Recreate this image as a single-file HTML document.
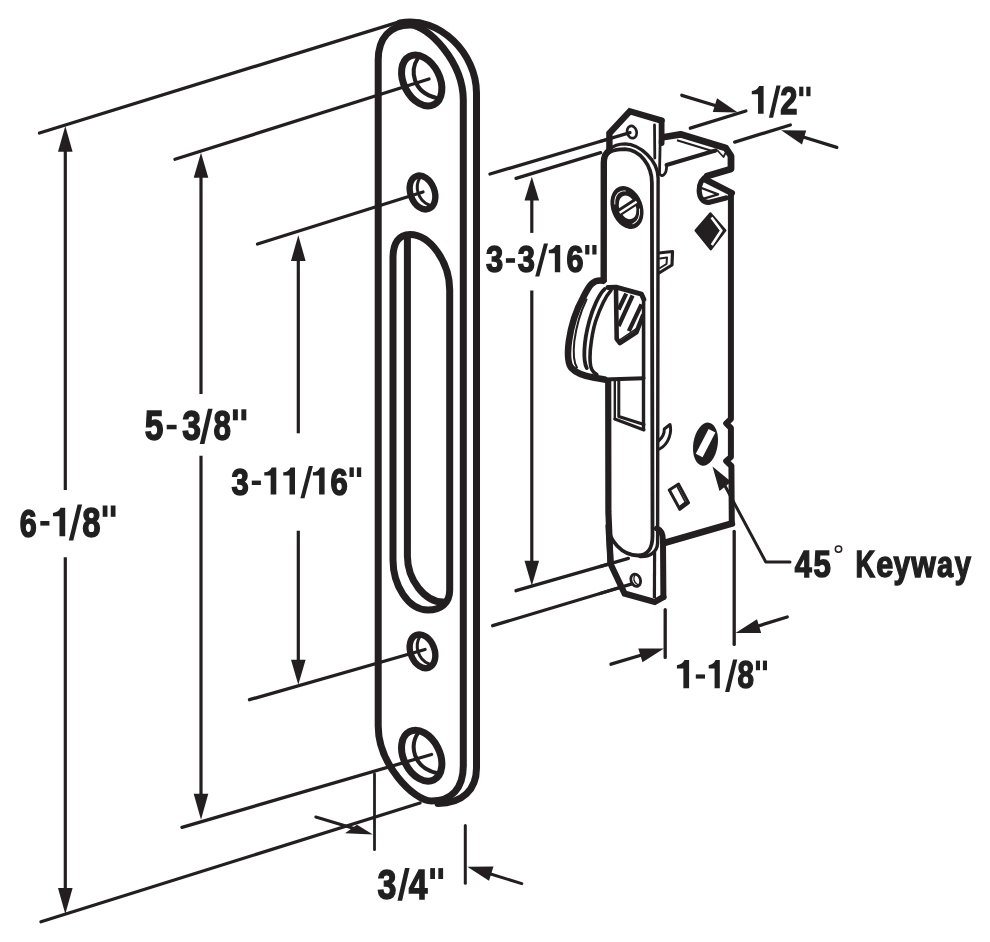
<!DOCTYPE html>
<html><head><meta charset="utf-8">
<style>
html,body{margin:0;padding:0;background:#fff;}
body{width:990px;height:942px;overflow:hidden;}
svg{display:block;}
text{font-family:"Liberation Sans",sans-serif;font-weight:bold;fill:#231f20;stroke:#231f20;stroke-linejoin:miter;}
</style></head><body>
<svg width="990" height="942" viewBox="0 0 990 942" fill="none" stroke="#231f20" stroke-linecap="round" stroke-linejoin="round">
<rect x="0" y="0" width="990" height="942" fill="#fff" stroke="none"/>

<!-- ===== extension lines (strike plate) ===== -->

<!-- ===== dimension lines (strike plate) ===== -->
<g id="dims" stroke-width="3.2" stroke-linecap="butt">
<line x1="65.3" y1="148" x2="65.3" y2="490"/>
<line x1="65.3" y1="557.3" x2="65.3" y2="892"/>
<line x1="201" y1="174" x2="201" y2="394"/>
<line x1="201" y1="455.7" x2="201" y2="797"/>
<line x1="298.3" y1="258" x2="298.3" y2="433.3"/>
<line x1="298.3" y1="530.7" x2="298.3" y2="663"/>
</g>
<g id="heads" fill="#231f20" stroke="none">
<polygon points="65.3,126 58,151.7 72.6,151.7"/>
<polygon points="65.3,914 58,888 72.6,888"/>
<polygon points="201,152.7 193.7,177.7 208.3,177.7"/>
<polygon points="201,819.7 193.7,793.7 208.3,793.7"/>
<polygon points="298.3,235.3 291,261 305.6,261"/>
<polygon points="298.3,684.7 291,659.7 305.6,659.7"/>
</g>

<!-- ===== strike plate ===== -->
<g id="plate" stroke-width="7">
<!-- back edge -->
<path d="M400,23 C440,15.5 476.5,54 476.5,93 L476.5,768 C476.5,790 462,803.5 438,803.5"/>
<!-- front face -->
<path d="M378.2,60 C378.2,38 390,25 410,25 C428,25 463.3,62 463.3,100 L463.3,766 C463.3,788 451.6,801 431.6,801 C413.6,801 378.2,764 378.2,726 Z" fill="#fff"/>
<!-- slot -->
<path d="M393,258 C393,243 399,234.5 410,234.5 C430,234.5 449.7,262 449.7,290 L449.7,590 C449.7,603 441,610 428,610 C408,610 393,585 393,560 Z"/>
<path d="M407.4,237 L407.4,556 C407.4,580 425,602 443,602"/>
</g>
<!-- holes -->
<g id="holes">
<ellipse cx="421.7" cy="80.5" rx="18" ry="27" transform="rotate(-26.8 421.7 80.5)" stroke-width="7" fill="#fff"/>
<path d="M418,58 C410,70 412,92 436.5,98" stroke-width="4"/>
<ellipse cx="421.7" cy="755.7" rx="18" ry="27" transform="rotate(-26.8 421.7 755.7)" stroke-width="7" fill="#fff"/>
<path d="M418,733 C410,745 412,767 436.5,773" stroke-width="4"/>
<ellipse cx="422.5" cy="192.5" rx="12" ry="17.5" transform="rotate(-21 422.5 192.5)" stroke-width="6.4" fill="#fff"/>
<path d="M419.5,178.5 C415,186 417,200 429,205" stroke-width="3"/>
<ellipse cx="422.5" cy="651.3" rx="12" ry="17.5" transform="rotate(-21 422.5 651.3)" stroke-width="6.4" fill="#fff"/>
<path d="M419.5,637.3 C415,645 417,659 429,664" stroke-width="3"/>
</g>
<!-- extension lines (strike plate) on top -->
<g id="ext" stroke-width="3.3">
<line x1="39.5" y1="133" x2="400" y2="21.6"/>
<line x1="175" y1="159.3" x2="429" y2="79"/>
<line x1="257.5" y1="244" x2="423" y2="192"/>
<line x1="249.5" y1="699.7" x2="425" y2="649.5"/>
<line x1="182" y1="827.3" x2="431.5" y2="754.5"/>
<line x1="41" y1="921.7" x2="420" y2="803"/>
</g>

<!-- 3/4 dimension -->
<g id="d34">
<line x1="374.5" y1="774" x2="374.5" y2="849.7" stroke-width="2.8"/>
<line x1="465.3" y1="825.5" x2="465.3" y2="883.2" stroke-width="3"/>
<line x1="315.8" y1="817" x2="360" y2="830.3" stroke-width="3"/>
<polygon points="345,833.3 372.9,834.6 357,824.8" fill="#231f20" stroke="none"/>
<line x1="521.8" y1="883.6" x2="485" y2="872.3" stroke-width="3"/>
<polygon points="467.3,866.7 489,880.8 493.5,866.5" fill="#231f20" stroke="none"/>
</g>


<!-- ===== lock extension + dimension lines ===== -->
<g id="lockext" stroke-width="3.3">
<line x1="490" y1="174" x2="632" y2="132"/>
<line x1="516" y1="178.3" x2="600.7" y2="152.7"/>
<line x1="516" y1="590.7" x2="628.4" y2="558.4"/>
<line x1="492.7" y1="625.7" x2="630" y2="584.5"/>
<line x1="690.3" y1="128.2" x2="745.9" y2="111"/>
<line x1="734.7" y1="142.1" x2="790.3" y2="125"/>
<line x1="665.2" y1="609.7" x2="665.2" y2="657.4"/>
<line x1="734.2" y1="531.3" x2="734.2" y2="644.4"/>
<line x1="681.8" y1="95.3" x2="720" y2="107"/>
<line x1="836.8" y1="147.4" x2="800" y2="136"/>
<line x1="611" y1="664.2" x2="645" y2="654"/>
<line x1="787.2" y1="617" x2="755" y2="627"/>
</g>
<g stroke-width="3.2" stroke-linecap="butt">
<line x1="531.8" y1="198" x2="531.8" y2="232.9"/>
<line x1="531.8" y1="290.5" x2="531.8" y2="563"/>
</g>
<g fill="#231f20" stroke="none">
<polygon points="531.8,176.7 524.5,200.5 539.1,200.5"/>
<polygon points="531.8,585.7 524.5,560.7 539.1,560.7"/>
<polygon points="737.8,112.4 712.8,112.0 717,98.2"/>
<polygon points="781.2,130.2 806.2,130.6 802,144.4"/>
<polygon points="664,648.5 642.5,662.3 638.3,648.5"/>
<polygon points="735.5,633.1 757,619.3 761.2,633.1"/>
</g>

<!-- ===== lock case (behind) ===== -->
<g id="case">
<path d="M665.5,138.6 L679.1,131.4 L725.5,145.9 L731.8,153.2 L731.8,167.7 L705.5,175.9 C698,180 697,195 703,200 L707,203 L731.8,195.5 L731.2,420 L726,423.4 L731.2,427 L731.2,457 L726,461 L731.2,465 L733,523.8 L664.6,542.5 Z" fill="#fff" stroke="none"/>
<!-- top band -->
<path d="M664.5,137 L680.5,134.3 L725.8,148 L731,156 L731,169 L707.3,175.9" stroke-width="6.8" stroke-linejoin="round"/>
<path d="M677,140.3 L715.5,152" stroke-width="2.2" stroke-linecap="butt"/>
<!-- fold line -->
<path d="M666.5,165 L715.5,150.5" stroke-width="4"/>
<path d="M717.5,150.5 L723.5,157 L725.5,153" stroke-width="1.8"/>
<!-- notch -->
<path d="M707.3,175.9 C702,178.5 699,184 699.2,191 C699.6,198 703,202.4 708.5,202.4 L726,198" stroke-width="5.2"/>
<path d="M705.5,179.6 L731.8,193" stroke-width="6.4"/>
<path d="M700.8,187.8 L718.2,194.4 L703.8,198.6" stroke-width="2.2"/>
<!-- right edge with notches -->
<path d="M730.9,194 L730.9,419 L726.2,423.4 L730.9,428 L730.9,457 L726.2,461 L731.4,466 L731.8,523.6" stroke-width="6"/>
<path d="M731.8,523.6 L665,542.7" stroke-width="6.8"/>
<!-- diamond -->
<polygon points="695.5,230.5 710.4,213.2 725.5,230.5 710.9,249.5" fill="#231f20" stroke-width="2"/>
<polyline points="711.5,217.5 721.3,230.5 711.8,245" stroke="#fff" stroke-width="2.6" stroke-linejoin="miter" stroke-linecap="butt"/>
<!-- small hooks right of faceplate -->
<path d="M658.5,253 L672.5,251.5 L672,265 L659,273" stroke-width="3.2"/>
<path d="M660,258.5 L667,257.5 L666.5,264 L660,268" stroke-width="2"/>
<path d="M658.5,441 C662,438 664.5,434 664.3,429 L670,424.5 C672,432 669,444 659.5,449" stroke-width="3"/>
<!-- keyway -->
<ellipse cx="705.5" cy="444.2" rx="12.2" ry="21.8" transform="rotate(9 705.5 444.2)" fill="#231f20" stroke="none"/>
<line x1="712" y1="430.8" x2="699.2" y2="455.6" stroke="#fff" stroke-width="7.6" stroke-linecap="butt"/>
<!-- small parallelogram -->
<polygon points="669.3,490 678.6,484.1 688.5,502.8 679.8,509.3" stroke-width="3"/>
<path d="M679.8,506.5 L685.5,502.3 L677.5,487" stroke-width="1.8"/>
<polygon points="679.8,509.3 688.5,502.8 685.5,501.5 680.5,505.5" fill="#231f20" stroke="none"/>
</g>

<!-- ===== keyway leader ===== -->
<polygon points="712.5,466.6 719.5,491 731.2,481.8" fill="#231f20" stroke="none"/>
<path d="M724,484 L765.8,562 L790,562" stroke-width="3"/>

<!-- ===== mounting tabs + faceplate ===== -->
<g id="face">
<!-- top tab -->
<path d="M609.4,152 L609.4,133.3 L629.8,111.3 L661.6,120.6 L661,175 L655.5,166 L655.5,150 Z" fill="#fff" stroke="none"/>
<path d="M609.4,152 L609.4,133.3 L629.8,111.3 L661.6,120.6" stroke-width="6.4" stroke-linejoin="miter"/>
<path d="M661.6,120.6 L661.6,143" stroke-width="5.8"/>
<path d="M660.2,140 L659.5,173.5 C661,177.5 666.8,176 666.6,165.5" stroke-width="2.8"/>
<path d="M654.5,125 L654.8,158" stroke-width="2.8"/>
<ellipse cx="631.9" cy="132.1" rx="4.7" ry="6.2" transform="rotate(-15 631.9 132.1)" stroke-width="2.7" fill="#fff"/>
<!-- bottom tab -->
<path d="M608.5,526 L610.6,564 L624.6,593.6 L654.7,602 L663.4,597 L663,540 C663,534 660,531 658,531 Z" fill="#fff" stroke="none"/>
<path d="M608.5,526 L610.6,564 L624.6,593.6 L654.7,602 L663.4,597" stroke-width="6.2" stroke-linejoin="miter"/>
<path d="M663.4,597 L663,541 C663,533 660,529.5 657,528.5" stroke-width="6"/>
<path d="M654.6,552 L654.4,598" stroke-width="3.2" stroke-linecap="butt"/>
<ellipse cx="635.7" cy="580.2" rx="4.7" ry="6.3" transform="rotate(-20 635.7 580.2)" stroke-width="2.8" fill="#fff"/>
<path d="M634.8,575.5 C633,578 633.5,582 637.5,584.5" stroke-width="1.4"/>
<!-- faceplate outer (thickness) arc + right edge -->
<path d="M609,149.5 C613,146 619,143.9 625,143.9 C640,144.5 658,160 658.1,178 L657.6,543 C657.2,552 650,557 640,556.5" stroke-width="3.4"/>
<!-- faceplate front face -->
<path d="M603.8,162 C603.8,153 613,149.2 625,149.2 C640,150 651.9,165 651.9,183 L652.5,534 C652.5,548 648,555.5 638,555.5 C622,555.5 608.5,540 608.5,526 L608.5,380 L603.6,281 Z" fill="#fff" stroke="none"/>
<path d="M603.8,162 C603.8,153 613,149.2 625,149.2 C640,150 651.9,165 651.9,183 L652.5,536 C652.5,549 647,555.5 638,555.5 C622,555.5 608.5,540 608.5,526" stroke-width="3.8"/>
<path d="M603.7,282 L603.8,163 C603.8,156 606,152.5 609.5,150.5" stroke-width="6.4" stroke-linecap="butt"/>
<path d="M608.2,379 L608.4,512 L610.6,564" stroke-width="6.2" stroke-linecap="butt"/>
<!-- screw -->
<ellipse cx="627" cy="207.5" rx="15.6" ry="22.2" transform="rotate(-20.7 627 207.5)" fill="#231f20" stroke="none"/>
<ellipse cx="627.2" cy="207.5" rx="11.6" ry="17.2" transform="rotate(-20.7 627.2 207.5)" stroke="#fff" stroke-width="0.9" pathLength="100" stroke-dasharray="20 32 22 26" stroke-dashoffset="-6" stroke-linecap="butt"/>
<ellipse cx="627.6" cy="207.4" rx="8.3" ry="12.2" transform="rotate(-20 627.6 207.4)" fill="#fff" stroke="none"/>
<line x1="618" y1="213.3" x2="637.5" y2="200.7" stroke-width="7.4" stroke-linecap="butt"/>
<line x1="619.6" y1="212.7" x2="636.6" y2="201.7" stroke="#fff" stroke-width="2.3" stroke-linecap="butt"/>
<!-- bolt window -->
<line x1="614.8" y1="380" x2="614.8" y2="419" stroke-width="2.4"/>
<path d="M618.8,380 L618.8,416.5 L644,424.5" stroke-width="3"/>
<path d="M614.8,419 L644,430" stroke-width="3"/>
<line x1="643.5" y1="299" x2="643.5" y2="429.5" stroke-width="3.4"/>
</g>
<!-- ext lines over tabs -->
<g stroke-width="3.3">
<line x1="600" y1="141.5" x2="630" y2="132.6"/>
<line x1="600" y1="566.6" x2="628.4" y2="558.4"/>
<line x1="600" y1="593.5" x2="632" y2="583.9"/>
</g>

<!-- ===== hook ===== -->
<g id="hook">
<path d="M603.3,280.8 C593,279 589.3,285.3 582.9,298 C575,312 570.5,330 568.9,341.3 C567,356 568,364 571.5,368.1 C576,373 584,376 593.1,377.6 L604.6,379.6 L643.5,378.3 L643.5,299.3 L641.5,294.2 L616,287.2 Z" fill="#fff" stroke="none"/>
<path d="M603.3,280.8 C593,279 589.3,285.3 582.9,298 C575,312 570.5,330 568.9,341.3 C567,356 568,364 571.5,368.1 C576,373 584,376 593.1,377.6 L604.6,379.6" stroke-width="6.6"/>
<path d="M586.5,299.5 C580,313 575.8,330 574.3,341.3 C573,354 573.5,362 577,367.5" stroke-width="2"/>
<path d="M604.6,379.6 L643.5,378.3" stroke-width="4"/>
<path d="M604.6,289.1 C599,294 592.5,309 589.3,321 C586,333 584.8,341 584.4,350 C584,359 584.5,364 586.8,368.1" stroke-width="3.8"/>
<path d="M611,290.4 C606,296 599.5,310 595.7,321 C592.5,331 591.2,341 590.3,350 C589.6,360 590,366 591.8,369.4 C593,372 595,373.5 596.9,374.5" stroke-width="3.6"/>
<path d="M608,287.5 L616,287.2 L641.5,294.2 L643.8,299.3" stroke-width="5"/>
<path d="M616,289.1 L616.7,338.8 L619.9,343.2 L636.4,332.4 L642.8,316" stroke-width="4.6"/>
<path d="M626.2,293.6 L618.6,309.5 M632.6,295.5 L618.6,326 M641.5,304.4 L628.8,331.1" stroke-width="4.2" stroke-linecap="butt"/>
<path d="M620.5,339.4 L636,329" stroke-width="1.6"/>
<line x1="643.5" y1="299" x2="643.5" y2="378.5" stroke-width="3.4"/>
</g>

<!-- ===== text ===== -->
<g id="txt" fill="#231f20" stroke="none" style="filter:grayscale(1)">
<text transform="translate(19.66,536.50) scale(0.7737,1)" font-size="39.42" stroke-width="1.50">6</text>
<rect x="40.30" y="521.00" width="9.10" height="4.60"/>
<path d="M65.20,507.80 L65.20,536.30 L59.47,536.30 L59.47,516.35 L53.00,516.35 L53.00,512.93 Q58.49,512.36 60.56,507.80 Z"/>
<polygon points="77.60,504.50 82.10,504.50 73.30,540.50 68.80,540.50"/>
<text transform="translate(82.30,536.50) scale(0.7792,1)" font-size="42.17" stroke-width="1.50">8</text>
<rect x="102.70" y="505.50" width="4.74" height="11.30"/><rect x="110.76" y="505.50" width="4.74" height="11.30"/>
<text transform="translate(144.78,440.20) scale(0.7893,1)" font-size="42.61" stroke-width="1.50">5</text>
<rect x="166.70" y="424.80" width="9.90" height="4.50"/>
<text transform="translate(182.32,440.20) scale(0.7893,1)" font-size="42.61" stroke-width="1.50">3</text>
<polygon points="207.97,408.70 212.60,408.70 204.44,444.10 199.80,444.10"/>
<text transform="translate(213.41,440.20) scale(0.7367,1)" font-size="42.61" stroke-width="1.50">8</text>
<rect x="232.90" y="409.30" width="4.96" height="11.00"/><rect x="241.34" y="409.30" width="4.96" height="11.00"/>
<text transform="translate(231.60,494.60) scale(0.8259,1)" font-size="37.68" stroke-width="1.50">3</text>
<rect x="251.80" y="480.60" width="9.10" height="4.40"/>
<path d="M276.30,467.40 L276.30,494.60 L270.66,494.60 L270.66,475.56 L264.30,475.56 L264.30,472.30 Q269.70,471.75 271.74,467.40 Z"/>
<path d="M295.00,467.40 L295.00,494.60 L289.50,494.60 L289.50,475.56 L283.30,475.56 L283.30,472.30 Q288.56,471.75 290.55,467.40 Z"/>
<polygon points="308.80,466.00 312.90,466.00 304.50,498.20 300.40,498.20"/>
<path d="M324.60,467.40 L324.60,494.60 L319.10,494.60 L319.10,475.56 L312.90,475.56 L312.90,472.30 Q318.17,471.75 320.15,467.40 Z"/>
<text transform="translate(330.58,494.60) scale(0.8220,1)" font-size="37.68" stroke-width="1.50">6</text>
<rect x="349.50" y="467.40" width="4.33" height="9.60"/><rect x="356.87" y="467.40" width="4.33" height="9.60"/>
<text transform="translate(485.90,272.30) scale(0.8210,1)" font-size="37.68" stroke-width="1.50">3</text>
<rect x="505.90" y="258.20" width="9.10" height="4.60"/>
<text transform="translate(517.70,272.30) scale(0.8210,1)" font-size="37.68" stroke-width="1.50">3</text>
<polygon points="543.90,243.50 548.00,243.50 539.30,276.40 535.20,276.40"/>
<path d="M560.20,245.00 L560.20,272.30 L554.84,272.30 L554.84,253.19 L548.80,253.19 L548.80,249.91 Q553.93,249.37 555.87,245.00 Z"/>
<text transform="translate(566.39,272.30) scale(0.8118,1)" font-size="37.68" stroke-width="1.50">6</text>
<rect x="585.20" y="245.00" width="4.18" height="9.50"/><rect x="592.32" y="245.00" width="4.18" height="9.50"/>
<path d="M763.60,86.00 L763.60,113.70 L758.05,113.70 L758.05,94.31 L751.80,94.31 L751.80,90.99 Q757.11,90.43 759.12,86.00 Z"/>
<polygon points="776.43,85.60 780.60,85.60 773.07,117.80 768.90,117.80"/>
<text transform="translate(780.27,113.90) scale(0.7966,1)" font-size="38.70" stroke-width="1.50">2</text>
<rect x="799.20" y="86.70" width="4.18" height="9.50"/><rect x="806.32" y="86.70" width="4.18" height="9.50"/>
<text transform="translate(377.62,898.80) scale(0.8006,1)" font-size="42.46" stroke-width="1.50">3</text>
<polygon points="405.00,868.10 409.60,868.10 402.11,900.80 397.50,900.80"/>
<text transform="translate(408.72,898.80) scale(0.7940,1)" font-size="42.32" stroke-width="1.50">4</text>
<rect x="430.20" y="868.10" width="4.77" height="10.90"/><rect x="438.33" y="868.10" width="4.77" height="10.90"/>
<path d="M689.10,660.10 L689.10,688.20 L683.37,688.20 L683.37,668.53 L676.90,668.53 L676.90,665.16 Q682.39,664.60 684.46,660.10 Z"/>
<rect x="695.80" y="674.40" width="9.20" height="4.20"/>
<path d="M719.80,660.10 L719.80,688.20 L714.58,688.20 L714.58,668.53 L708.70,668.53 L708.70,665.16 Q713.70,664.60 715.58,660.10 Z"/>
<polygon points="733.08,659.50 737.30,659.50 729.32,691.90 725.10,691.90"/>
<text transform="translate(737.58,688.20) scale(0.7522,1)" font-size="39.28" stroke-width="1.50">8</text>
<rect x="755.90" y="660.60" width="4.11" height="9.60"/><rect x="762.89" y="660.60" width="4.11" height="9.60"/>
<text transform="translate(794.81,576.80) scale(0.8312,1)" font-size="36.67" stroke-width="1.50">4</text>
<text transform="translate(813.50,576.80) scale(0.8459,1)" font-size="36.96" stroke-width="1.50">5</text>
<text transform="translate(855.55,576.80) scale(0.7209,1)" font-size="37.54" stroke-width="1.50">K</text>
<text transform="translate(876.19,576.80) scale(0.8147,1)" font-size="37.54" stroke-width="1.50">e</text>
<text transform="translate(893.60,576.80) scale(0.7947,1)" font-size="37.54" stroke-width="1.50">y</text>
<text transform="translate(911.23,576.80) scale(0.8383,1)" font-size="37.54" stroke-width="1.50">w</text>
<text transform="translate(937.01,576.80) scale(0.7712,1)" font-size="37.54" stroke-width="1.50">a</text>
<text transform="translate(954.69,576.80) scale(0.7763,1)" font-size="37.54" stroke-width="1.50">y</text>
</g>
<circle cx="838.5" cy="549.1" r="3.2" stroke-width="1.5"/>

</svg>
</body></html>
